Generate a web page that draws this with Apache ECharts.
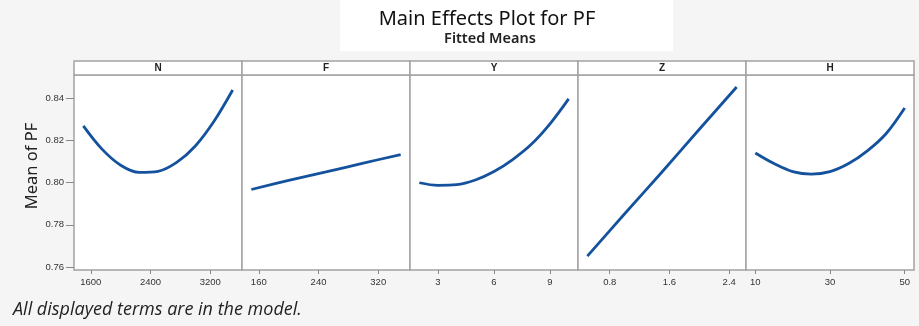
<!DOCTYPE html>
<html>
<head>
<meta charset="utf-8">
<script src="https://cdn.jsdelivr.net/npm/echarts@6/dist/echarts.min.js"></script>
<style>
html,body{margin:0;padding:0;background:#f5f5f5;}
#chart{width:919px;height:326px;}
</style>
</head>
<body>
<div id="chart"></div>
<script>
// ---- data ----
const panelNames = ['N', 'F', 'Y', 'Z', 'H'];

const nX = [1500, 1750, 2000, 2250, 2500, 2750, 3000, 3250, 3500];
const nMean = [0.8268, 0.8158, 0.8082, 0.8048, 0.8053, 0.8095, 0.8173, 0.8290, 0.8438];

const fX = [150, 200, 250, 300, 350];
const fMean = [0.7967, 0.8010, 0.8050, 0.8092, 0.8132];

const yX = [2, 3, 4, 5, 6, 7, 8, 9, 10];
const yMean = [0.7999, 0.7987, 0.7990, 0.8012, 0.8052, 0.8109, 0.8181, 0.8278, 0.8396];

const zX = [0.5, 1.0, 1.5, 2.0, 2.5];
const zMean = [0.7652, 0.7852, 0.8050, 0.8252, 0.8452];

const hX = [10, 15, 20, 25, 30, 35, 40, 45, 50];
const hMean = [0.8140, 0.8090, 0.8052, 0.8040, 0.8052, 0.8090, 0.8150, 0.8231, 0.8353];

const nTicks = [1600, 2400, 3200];
const fTicks = [160, 240, 320];
const yTicks = [3, 6, 9];
const zTicks = [0.8, 1.6, 2.4];
const hTicks = [10, 30, 50];
const meanTicks = [0.76, 0.78, 0.80, 0.82, 0.84];

const titleText = 'Main Effects Plot for PF';
const subtitleText = 'Fitted Means';
const yAxisName = 'Mean of PF';
const footnote = 'All displayed terms are in the model.';

// ---- layout ----
const xs = [nX, fX, yX, zX, hX];
const ms = [nMean, fMean, yMean, zMean, hMean];
const ticks = [nTicks, fTicks, yTicks, zTicks, hTicks];
const plotLeft = 74, panelW = 168, plotTop = 75, plotH = 195, headH = 14;
const yMin = 0.7586, yMax = 0.8509;
const lineColor = '#15529e';
const borderColor = '#a3a3a3';

const grids = [], xAxes = [], yAxes = [], series = [], graphics = [];

graphics.push({type: 'rect', shape: {x: 340, y: 0, width: 333, height: 51}, style: {fill: '#ffffff'}, silent: true});
graphics.push({type: 'text', x: 487, y: 19, style: {text: titleText, font: '20px "Noto Sans"', fill: '#111', textAlign: 'center', textVerticalAlign: 'middle'}});
graphics.push({type: 'text', x: 490, y: 39, style: {text: subtitleText, font: '600 14.5px "Noto Sans"', fill: '#222', textAlign: 'center', textVerticalAlign: 'middle'}});
graphics.push({type: 'text', x: 32, y: 166, rotation: Math.PI / 2, style: {text: yAxisName, font: '16.5px "Noto Sans"', fill: '#222', textAlign: 'center', textVerticalAlign: 'middle'}});
graphics.push({type: 'text', x: 13, y: 310, style: {text: footnote, font: 'italic 18px "Open Sans"', fill: '#222', textAlign: 'left', textVerticalAlign: 'middle'}});

panelNames.forEach((name, i) => {
  const left = plotLeft + i * panelW;
  grids.push({left: left, top: plotTop, width: panelW, height: plotH, show: true, borderColor: borderColor, borderWidth: 1.5, backgroundColor: '#fff'});
  const xv = xs[i];
  const lo = Math.min(...xv), hi = Math.max(...xv), pad = (hi - lo) * 0.0625;
  xAxes.push({
    type: 'value', gridIndex: i, min: lo - pad, max: hi + pad,
    axisLine: {show: false}, splitLine: {show: false},
    axisTick: {show: true, length: 4, lineStyle: {color: '#888'}, customValues: ticks[i]},
    axisLabel: {show: true, customValues: ticks[i], fontSize: 9.5, color: '#333', margin: 7, fontFamily: 'Liberation Sans', formatter: v => String(v)}
  });
  yAxes.push({
    type: 'value', gridIndex: i, min: yMin, max: yMax,
    axisLine: {show: false}, splitLine: {show: false},
    axisTick: {show: i === 0, length: 8, lineStyle: {color: '#888'}, customValues: meanTicks},
    axisLabel: {show: i === 0, customValues: meanTicks, fontSize: 9.5, color: '#333', margin: 10, fontFamily: 'Liberation Sans', formatter: v => v.toFixed(2)}
  });
  series.push({
    type: 'line', xAxisIndex: i, yAxisIndex: i,
    data: xv.map((x, k) => [x, ms[i][k]]),
    smooth: 0.35, showSymbol: false, symbol: 'none',
    lineStyle: {color: lineColor, width: 2.8}
  });
  graphics.push({type: 'rect', shape: {x: left, y: plotTop - headH, width: panelW, height: headH}, style: {fill: '#fff', stroke: borderColor, lineWidth: 1.5}});
  graphics.push({type: 'text', x: left + panelW / 2, y: plotTop - headH / 2, style: {text: name, font: 'bold 10px "Liberation Sans"', fill: '#222', textAlign: 'center', textVerticalAlign: 'middle'}});
});

const chart = echarts.init(document.getElementById('chart'), null, {renderer: 'canvas'});
chart.setOption({
  backgroundColor: '#f5f5f5',
  animation: false,
  grid: grids, xAxis: xAxes, yAxis: yAxes, series: series,
  graphic: graphics
});
</script>
</body>
</html>
